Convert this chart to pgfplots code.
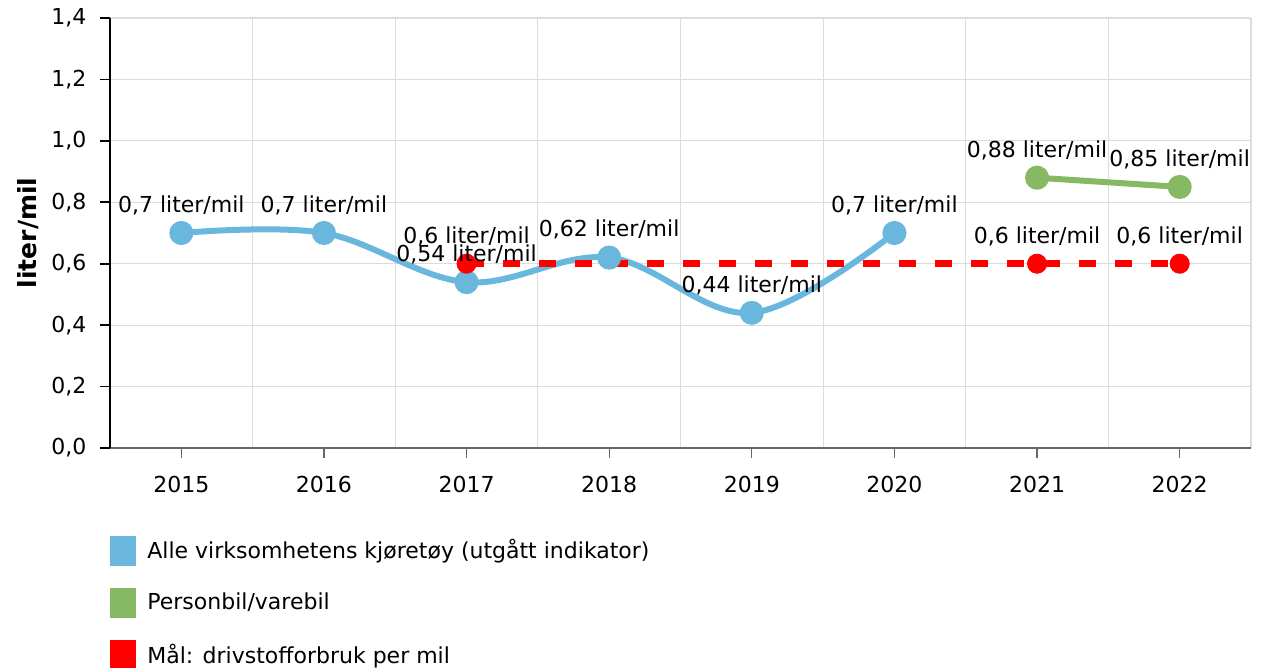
\documentclass[border=0pt]{standalone}
\usepackage{fontspec}
\setmainfont{DejaVu Sans}
\usepackage{pgfplots}
\usepackage{pgfplotstable}
\pgfplotsset{compat=1.18}
\definecolor{cblue}{HTML}{6AB7DD}
\definecolor{cgreen}{HTML}{87B863}
\definecolor{cred}{HTML}{FF0000}
\definecolor{cgrid}{HTML}{DCDCDC}
\definecolor{caxis}{HTML}{666666}

\pgfplotstableread{
x y
0 0.7
1 0.7
2 0.54
3 0.62
4 0.44
5 0.7
}\blue
\pgfplotstableread{
x y
6 0.88
7 0.85
}\green
\pgfplotstableread{
x y
2 0.6
6 0.6
7 0.6
}\redpts
\pgfplotstableread{
x y
2 0.6
7 0.6
}\redline

\begin{document}
\fontsize{11}{13}\selectfont
\begin{tikzpicture}
\begin{axis}[
  scale only axis, width=570.5pt, height=215pt,
  xmin=-0.5, xmax=7.5, ymin=0, ymax=1.4,
  xtick={0,1,2,3,4,5,6,7},
  xticklabels={2015,2016,2017,2018,2019,2020,2021,2022},
  minor xtick={-0.5,0.5,1.5,2.5,3.5,4.5,5.5,6.5,7.5},
  xminorgrids, ymajorgrids,
  ytick={0,0.2,0.4,0.6,0.8,1.0,1.2,1.4},
  grid style={cgrid, line width=0.6pt},
  minor grid style={cgrid, line width=0.6pt},
  axis x line*=bottom, axis y line*=left,
  x axis line style={draw=caxis, line width=1.2pt, -},
  y axis line style={draw=black, line width=0.8pt, -},
  tick align=outside, major tick length=5pt, minor tick length=0pt,
  xtick style={draw=caxis, line width=0.6pt},
  ytick style={draw=black, line width=0.8pt},
  /pgf/number format/assume math mode=true,
  /pgf/number format/use comma,
  ticklabel style={font=\fontsize{11}{13}\selectfont, text=black},
  yticklabel style={/pgf/number format/fixed, /pgf/number format/fixed zerofill,
    /pgf/number format/precision=1, /pgf/number format/use comma,
    /pgf/number format/assume math mode=true, xshift=-3pt},
  xticklabel style={yshift=-5pt},
  ylabel={\textbf{liter/mil}},
  every axis y label/.style={at={(axis description cs:-0.0719,0.5)}, rotate=90,
    anchor=center, font=\fontsize{12.5}{14}\selectfont},
  clip=false,
  legend style={at={(0,0)}, anchor=north west, yshift=-43.5pt, draw=none, fill=none,
    inner sep=0pt, row sep=11pt, legend cell align=left,
    /tikz/every odd column/.append style={column sep=3.5pt},
    font=\fontsize{11}{13}\selectfont},
  every node near coord/.append style={anchor=base, yshift=10.3pt, text=black,
    font=\fontsize{11}{13}\selectfont},
]
\addplot[cblue, line width=3pt, smooth, tension=0.6, mark=*, mark size=4.5pt,
  mark options={solid, draw=none, fill=cblue},
  legend image code/.code={\fill[cblue, draw=none] (0pt,-7.5pt) rectangle (13pt,7.5pt);}]
  table[x=x, y=y] {\blue};
\addlegendentry{Alle virksomhetens kjøretøy (utgått indikator)}
\addplot[cgreen, line width=3pt, mark=*, mark size=4.5pt,
  mark options={solid, draw=none, fill=cgreen},
  legend image code/.code={\fill[cgreen, draw=none] (0pt,-7.5pt) rectangle (13pt,7.5pt);}]
  table[x=x, y=y] {\green};
\addlegendentry{Personbil/varebil}
\addplot[cred, line width=3.3pt, dash pattern=on 8.5pt off 9.5pt, forget plot]
  table[x=x, y=y] {\redline};
\addplot[cred, only marks, mark=*, mark size=4.8pt,
  mark options={draw=none, fill=cred},
  legend image code/.code={\fill[cred, draw=none] (0pt,-7.5pt) rectangle (13pt,7.5pt);}]
  table[x=x, y=y] {\redpts};
\addlegendentry{Mål: drivstofforbruk per mil}
% data labels drawn last, on top
\addplot[draw=none, mark=none, forget plot,
  nodes near coords={\pgfmathprintnumber{\pgfplotspointmeta} liter/mil}]
  table[x=x, y=y] {\blue};
\addplot[draw=none, mark=none, forget plot,
  nodes near coords={\pgfmathprintnumber{\pgfplotspointmeta} liter/mil}]
  table[x=x, y=y] {\green};
\addplot[draw=none, mark=none, forget plot,
  nodes near coords={\pgfmathprintnumber{\pgfplotspointmeta} liter/mil}]
  table[x=x, y=y] {\redpts};
\end{axis}
\pgfresetboundingbox
\path[use as bounding box] ([xshift=-55pt, yshift=9pt]current axis.north west)
  rectangle ([xshift=576.5pt, yshift=-325pt]current axis.north west);
\end{tikzpicture}
\end{document}
